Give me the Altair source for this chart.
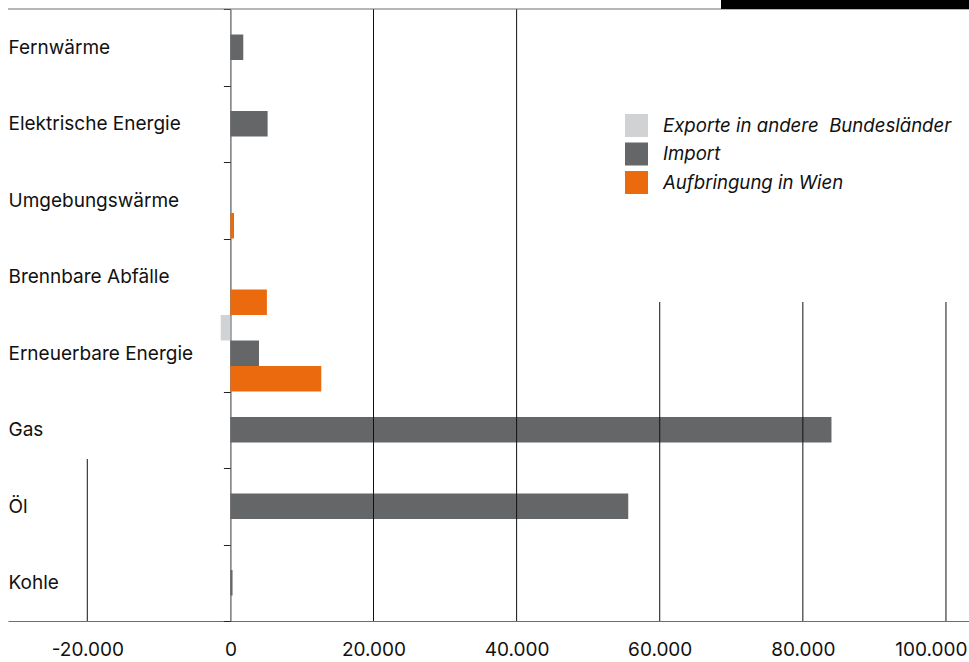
import altair as alt
import pandas as pd

# Energieaufbringung nach Energieträgern
categories = [
    "Fernwärme",
    "Elektrische Energie",
    "Umgebungswärme",
    "Brennbare Abfälle",
    "Erneuerbare Energie",
    "Gas",
    "Öl",
    "Kohle",
]
series_names = ["Exporte in andere\u00a0 Bundesländer", "Import", "Aufbringung in Wien"]
exporte = [0, 0, 0, 0, -1350, 0, 0, 0]
importe = [1800, 5200, 0, 0, 4000, 84000, 55600, 300]
aufbringung = [0, 0, 500, 5100, 12700, 0, 0, 0]
series_colors = ["#d1d2d4", "#656668", "#ec6a0e"]

tick_values = [-20000, 0, 20000, 40000, 60000, 80000, 100000]
grid_full = [20000, 40000]
grid_right = [60000, 80000, 100000]
grid_left = [-20000]

FONT = "Inter"
W, H = 961, 612
X_DOMAIN = [-31080, 103220]

rows = []
for name, values in zip(series_names, [exporte, importe, aufbringung]):
    for cat, v in zip(categories, values):
        if v != 0:
            rows.append({"Kategorie": cat, "Reihe": name, "Wert": v})
df = pd.DataFrame(rows)

x_scale = alt.Scale(domain=X_DOMAIN, nice=False, zero=False)
y_scale = alt.Scale(domain=categories, paddingInner=0, paddingOuter=0)

label_expr = (
    "(datum.value < 0 ? '-' : '') + "
    "replace(format(abs(datum.value), ','), ',', '.')"
)
# the last tick label is pushed flush against the right edge
last_tick = "datum.value == %d" % tick_values[-1]

bars = alt.Chart(df).mark_bar(cornerRadius=0).encode(
    x=alt.X(
        "Wert:Q",
        scale=x_scale,
        axis=alt.Axis(
            values=tick_values,
            labelExpr=label_expr,
            title=None,
            grid=False,
            ticks=False,
            domainColor="#6d6e70",
            domainWidth=1.2,
            labelFont=FONT,
            labelFontSize=19,
            labelColor="#111111",
            labelPadding=19,
            labelFlush=False,
            labelAlign={"condition": {"test": last_tick, "value": "right"}, "value": "center"},
            labelOffset={"condition": {"test": last_tick, "value": 21}, "value": 0},
        ),
    ),
    y=alt.Y(
        "Kategorie:N",
        scale=y_scale,
        sort=categories,
        axis=alt.Axis(
            title=None,
            offset=-222.4,
            tickBand="extent",
            tickSize=7,
            tickColor="#222222",
            domainColor="#58595b",
            domainWidth=1.2,
            labelAlign="left",
            labelBaseline="middle",
            labelPadding=215.4,
            labelLimit=0,
            labelFont=FONT,
            labelFontSize=19,
            labelColor="#111111",
            grid=False,
        ),
    ),
    yOffset=alt.YOffset(
        "Reihe:N",
        sort=series_names,
        scale=alt.Scale(domain=series_names, paddingInner=0, paddingOuter=0),
    ),
    color=alt.Color(
        "Reihe:N",
        scale=alt.Scale(domain=series_names, range=series_colors),
        legend=alt.Legend(
            title=None,
            orient="none",
            legendX=617,
            legendY=105,
            padding=0,
            symbolType="square",
            symbolSize=529,
            symbolStrokeWidth=0,
            symbolOpacity=1,
            rowPadding=5.5,
            labelOffset=15,
            labelFont=FONT,
            labelFontSize=18.6,
            labelFontStyle="italic",
            labelColor="#111111",
            labelLimit=0,
        ),
    ),
)

# vertical reference lines drawn above the bars
def grid_rules(values, y_top):
    return alt.Chart(pd.DataFrame({"v": values})).mark_rule(
        color="#111111", strokeWidth=1
    ).encode(
        x=alt.X("v:Q", scale=x_scale),
        y=alt.value(y_top),
        y2=alt.value(H),
    )

rules_full = grid_rules(grid_full, 0)
rules_right = grid_rules(grid_right, 293)
rules_left = grid_rules(grid_left, 450)

one = pd.DataFrame({"a": [0]})
top_line = alt.Chart(one).mark_rule(color="#6d6e70", strokeWidth=1.2).encode(
    x=alt.value(0), x2=alt.value(W), y=alt.value(0)
)
corner_bar = alt.Chart(one).mark_rect(color="#000000").encode(
    x=alt.value(713), x2=alt.value(W), y=alt.value(-9), y2=alt.value(0)
)

chart = alt.layer(
    bars, rules_full, rules_right, rules_left, top_line, corner_bar
).properties(
    width=W,
    height=H,
    padding={"left": 8, "top": 9, "right": 0, "bottom": 41},
    autosize=alt.AutoSizeParams(type="none"),
    background="#ffffff",
).configure_view(stroke=None).configure_axis(domainCap="butt")

chart.save("out.html", embed_options={"renderer": "svg", "actions": False})
